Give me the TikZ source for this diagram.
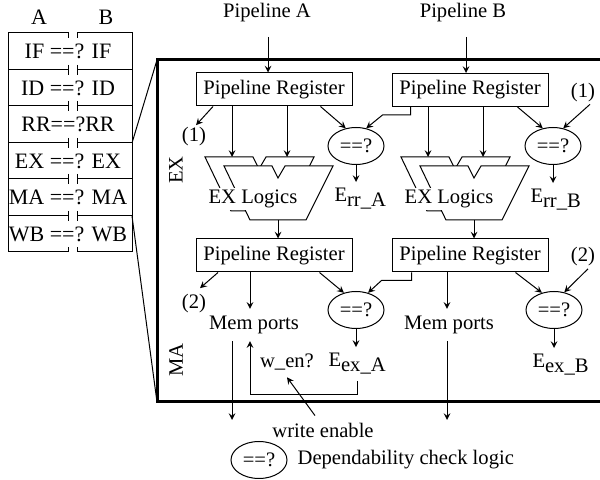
\documentclass[tikz,border=0pt]{standalone}
\usepackage{fontspec}
\setmainfont{Liberation Serif}
\usepackage{tikz}
\usetikzlibrary{shapes.geometric}

\tikzset{
	preg/.style={draw, minimum width=78pt, minimum height=16.5pt, inner sep=0pt},
	chk/.style={draw, ellipse, minimum width=28pt, minimum height=18.5pt, inner sep=0pt},
	lbl/.style={inner sep=1pt},
	sig/.style={anchor=base west, inner sep=3pt},
	alu/.style={draw, fill=white},
	row/.style={font=\fontsize{11pt}{13pt}\selectfont},
}

\begin{document}
\begin{tikzpicture}[x=0.5pt, y=-0.5pt, line width=0.5pt, font=\fontsize{10.3pt}{12pt}\selectfont]
	\useasboundingbox (0,0) rectangle (600,480);

	\node[row] (hA) at (39,17) {A};
	\node[row] (hB) at (106,17) {B};
	\draw (68,38) -- (68,33) -- (8,33) -- (8,252) -- (68,252) -- (68,247);
	\draw (77,38) -- (77,33) -- (132,33) -- (132,252) -- (77,252) -- (77,247);
	\draw (8,70) -- (68,70) (68,65) -- (68,75) (77,65) -- (77,75) (77,70) -- (132,70);
	\draw (8,106) -- (68,106) (68,101) -- (68,111) (77,101) -- (77,111) (77,106) -- (132,106);
	\draw (8,143) -- (68,143) (68,138) -- (68,148) (77,138) -- (77,148) (77,143) -- (132,143);
	\draw (8,179) -- (68,179) (68,174) -- (68,184) (77,174) -- (77,184) (77,179) -- (132,179);
	\draw (8,216) -- (68,216) (68,211) -- (68,221) (77,211) -- (77,221) (77,216) -- (132,216);
	\node[row] (rIF) at (68,51.5) {IF ==? IF};
	\node[row] (rID) at (68,88) {ID ==? ID};
	\node[row] (rRR) at (68,124.5) {RR==?RR};
	\node[row] (rEX) at (68,161) {EX ==? EX};
	\node[row] (rMA) at (68,197.5) {MA ==? MA};
	\node[row] (rWB) at (68,234) {WB ==? WB};

	\draw (132,143) -- (157,60);
	\draw (132,216) -- (157,402);
	\draw[line width=1.5pt] (604,60) -- (157,60) -- (157,402) -- (604,402);

	\node[rotate=90] (ex) at (176,170) {EX};
	\node[rotate=90] (ma) at (176,360) {MA};

	\node (pipeA) at (267,13) {Pipeline A};
	\node (pipeB) at (463,13) {Pipeline B};
	\coordinate (inA) at (268,37);
	\coordinate (inB) at (466,37);

	\node[preg] (regA) at (274,89.5) {Pipeline Register};
	\node[preg] (regB) at (470,90) {Pipeline Register};
	\node[preg] (regA2) at (274,255.5) {Pipeline Register};
	\node[preg] (regB2) at (470,255.5) {Pipeline Register};

	\node[chk] (chkA) at (356,146) {==?};
	\node[chk] (chkB) at (553,146) {==?};
	\node[chk] (chkA2) at (356,310) {==?};
	\node[chk] (chkB2) at (554,310) {==?};

	\node[lbl] (oneA) at (194,137) {(1)};
	\node[lbl] (oneB) at (583,92.5) {(1)};
	\node[lbl] (twoA) at (194,304) {(2)};
	\node[lbl] (twoB) at (583,257) {(2)};

	\node[sig] (errA) at (328,202) {E\raisebox{-2.5pt}{rr\_A}};
	\node[sig] (errB) at (524,203) {E\raisebox{-2.5pt}{rr\_B}};
	\node[sig] (exA) at (322,367) {E\raisebox{-2.5pt}{ex\_A}};
	\node[sig] (exB) at (526,368) {E\raisebox{-2.5pt}{ex\_B}};

	\draw[alu] (205,157) -- (253,157) -- (259,169) -- (266,157) -- (314,157) -- (287,211) -- (231,211) -- cycle;
	\draw[alu] (224,166) -- (272,166) -- (278,178) -- (285,166) -- (333,166) -- (306,220) -- (250,220) -- cycle;
	\node[fill=white, inner sep=1pt] (aluA) at (253,199) {EX Logics};
	\draw[alu] (401,157) -- (449,157) -- (455,169) -- (462,157) -- (510,157) -- (483,211) -- (427,211) -- cycle;
	\draw[alu] (420,166) -- (468,166) -- (474,178) -- (481,166) -- (529,166) -- (502,220) -- (446,220) -- cycle;
	\node[fill=white, inner sep=1pt] (aluB) at (449,199) {EX Logics};
	\coordinate (tA1) at (232,157);
	\coordinate (tA2) at (287,157);
	\coordinate (tB1) at (428,157);
	\coordinate (tB2) at (483,157);
	\coordinate (oA) at (278,220);
	\coordinate (oB) at (474,220);

	\node (memA) at (254,325) {Mem ports};
	\node (memB) at (449,325) {Mem ports};
	\node (wen) at (287,362) {w\_en?};
	\node (we) at (323,430) {write enable};
	\coordinate (dA) at (232,420);
	\coordinate (dB) at (447,420);

	\node[chk] (lg) at (259,460) {==?};
	\node[anchor=west] (lgt) at ([xshift=1.5pt]lg.east) {Dependability check logic};

	\path[-stealth]
	(inA) edge (inA |- regA.north)
	(inB) edge (inB |- regB.north)
	([xshift=-30.5pt]regA.south) edge ([xshift=1pt]oneA.north)
	(regA.south -| tA1) edge (tA1)
	(regA.south -| tA2) edge (tA2)
	([xshift=-16pt]regA.south east) edge (chkA.120)
	(chkA.south) edge (chkA.south |- errA.north)
	(regB.south -| tB1) edge (tB1)
	(regB.south -| tB2) edge (tB2)
	([xshift=-15.5pt]regB.south east) edge (chkB.120)
	([xshift=3.5pt]oneB.south) edge (chkB.60)
	(chkB.south) edge (chkB.south |- errB.north)
	(oA) edge (oA |- regA2.north)
	(oB) edge (oB |- regB2.north)
	([xshift=-28pt]regA2.south) edge ([xshift=3pt,yshift=2pt]twoA.north)
	([xshift=-12pt]regA2.south) edge ([xshift=-2pt]memA.north)
	([xshift=-16.5pt]regA2.south east) edge (chkA2.125)
	(chkA2.south) edge (chkA2.south |- exA.north)
	([xshift=-11.5pt]regB2.south) edge ([xshift=-1pt]memB.north)
	([xshift=-16.5pt]regB2.south east) edge (chkB2.125)
	([xshift=2.5pt]twoB.south) edge (chkB2.60)
	(chkB2.south) edge (chkB2.south |- exB.north)
	([xshift=-11pt]memA.south) edge (dA)
	([xshift=-1pt]memB.south) edge (dB)
	([xshift=-4pt]we.north) edge (wen.south);

	\draw[-stealth] ([xshift=9.5pt]regB.south west) -- ++(0,8) -- ++(-28,0) -- (chkA.60);
	\draw[-stealth] ([xshift=10pt]regB2.south west) -- ++(0,8) -- ++(-30,0) -- (chkA2.55);
	\draw[-stealth] (exA.south) -- ++(0,13) -| ([xshift=-2pt]memA.south);
\end{tikzpicture}
\end{document}
